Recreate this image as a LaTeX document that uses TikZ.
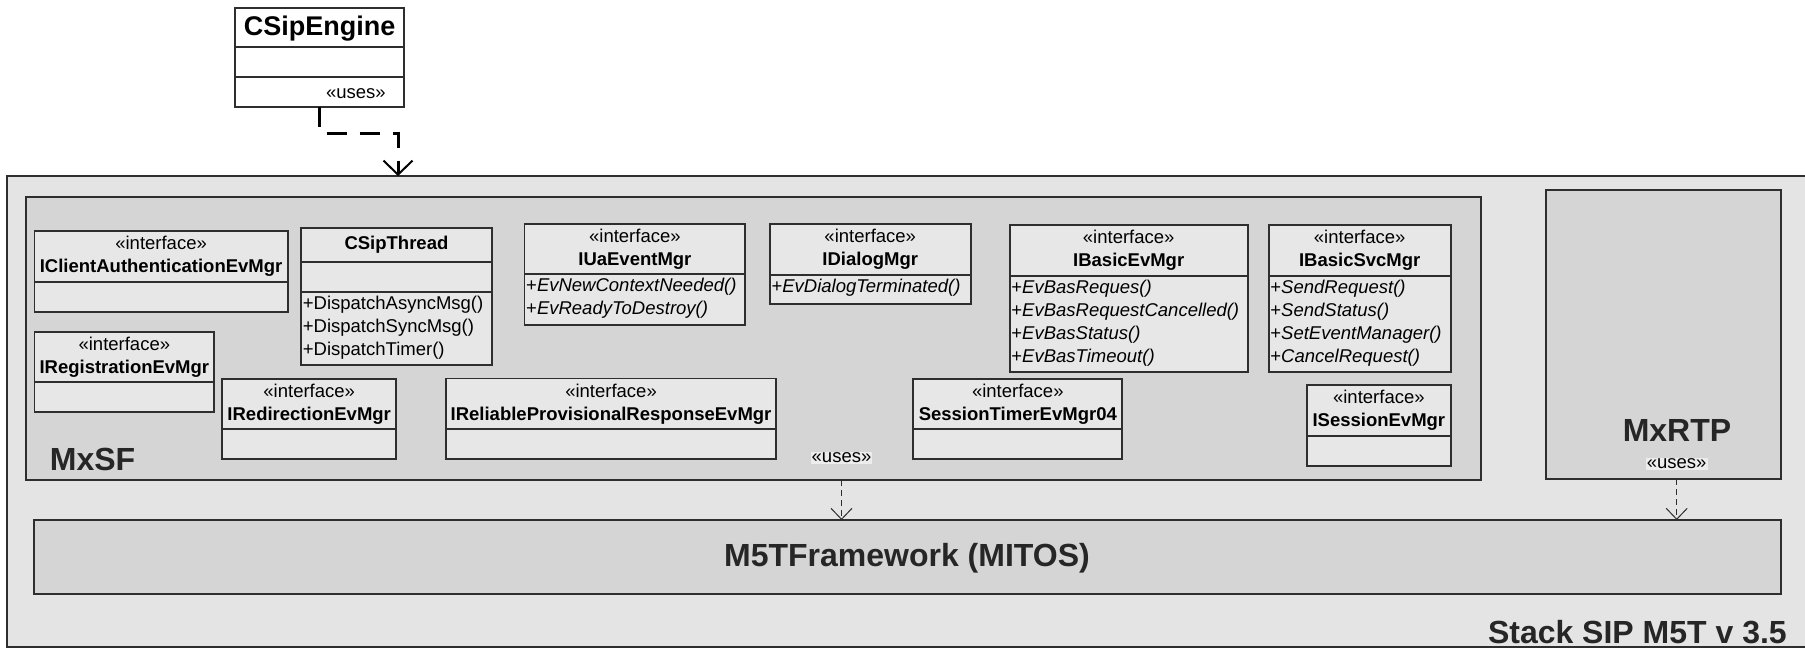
\documentclass[tikz,border=0pt]{standalone}
\usepackage{fontspec}
\setmainfont{Liberation Sans}
\usetikzlibrary{arrows.meta}
\definecolor{linec}{HTML}{2E2E2E}
\definecolor{outerfill}{HTML}{E4E4E4}
\definecolor{pkgfill}{HTML}{D5D5D5}
\definecolor{clsfill}{HTML}{E7E7E7}
\definecolor{usesfill}{HTML}{EDEDED}
\newcommand{\mkclass}[6]{%
  \node[cls, minimum width={(#4)-(#2)}, minimum height={(#5)-(#3)}] (#1) at (#2,#3) {};
  \draw[divl] (#2,#6) -- (#4,#6);
}
\newcommand{\ihead}[5]{%
  \node[hd] at ({(#1+#2)/2},{(#3+#4)/2}) {«interface»\\\textbf{#5}};
}
\newcommand{\opl}[3]{%
  \node[op] at ({#1+1.5},#2) {#3};
}
\begin{document}
\begin{tikzpicture}[x=1pt,y=-1pt,
  cls/.style={draw=linec, line width=1.8pt, fill=clsfill, inner sep=0, outer sep=0, anchor=north west},
  pkg/.style={draw=linec, line width=1.8pt, fill=pkgfill, inner sep=0, outer sep=0, anchor=north west},
  divl/.style={draw=linec, line width=1.8pt},
  hd/.style={inner sep=0, align=center, font=\fontsize{18.5}{23}\selectfont},
  op/.style={inner sep=0, anchor=west, font=\fontsize{18.5}{23}\selectfont},
  big/.style={inner sep=0, font=\fontsize{32}{36}\selectfont\bfseries, text=black!85},
  uses/.style={inner sep=1pt, font=\fontsize{18.5}{23}\selectfont, fill=usesfill},
  thindep/.style={draw=linec, line width=1pt, dash pattern=on 6pt off 4pt, -{Straight Barb[length=11pt,width=21pt,line width=1pt]}},
  thickdep/.style={draw=black, line width=3pt, dash pattern=on 20pt off 13pt, -{Straight Barb[length=14pt,width=29pt,line width=2pt]}}
]
\useasboundingbox (0,0) rectangle (1805,648);
\fill[white] (0,0) rectangle (1805,648);

% outer package
\node[pkg, fill=outerfill, minimum width=1810, minimum height=470.7] (stack) at (6.9,176) {};
\node[big, anchor=base east] (stacklbl) at (1787,643.3) {Stack SIP M5T v 3.5};

% CSipEngine
\node[cls, fill=white, minimum width=168.8, minimum height=99] (csip) at (235.3,8) {};
\draw[divl] (csip.west |- 0,47) -- (csip.east |- 0,47);
\draw[divl] (csip.west |- 0,77) -- (csip.east |- 0,77);
\node[inner sep=0, anchor=base, font=\fontsize{27}{30}\selectfont\bfseries] (csipname) at (319.7,35) {CSipEngine};
\node[uses, fill=white] (usesE) at (355.9,94) {«uses»};
\coordinate (bend) at (398,133);
\draw[thickdep] (csip.south) |- (bend) -- (bend |- stack.north);

% MxSF package
\node[pkg, minimum width=1454.7, minimum height=283.3] (mxsf) at (26,197) {};
\node[big, anchor=base west] (mxsflbl) at (49.7,470) {MxSF};

% MxRTP
\node[pkg, minimum width=235, minimum height=289] (mxrtp) at (1546,190) {};
\node[big, anchor=base] (mxrtplbl) at (1677,441.7) {MxRTP};
\node[uses] (usesR) at (1676.7,464) {«uses»};

% M5TFramework
\node[pkg, minimum width=1747.3, minimum height=74] (m5t) at (33.7,520) {};
\node[big, anchor=base] (m5tlbl) at (907,566.7) {M5TFramework (MITOS)};

% MxSF uses
\node[uses] (usesA) at (841.5,458) {«uses»};
\draw[thindep] (usesA |- mxsf.south) -- (usesA |- m5t.north);
\draw[thindep] (usesR |- mxrtp.south) -- (usesR |- m5t.north);

% classes
\mkclass{iclient}{34.4}{231}{287.8}{312}{282}
\ihead{34.4}{287.8}{231}{282}{IClientAuthenticationEvMgr}

\mkclass{csipthread}{301.2}{228}{491.7}{365}{262}
\draw[divl] (301.2,292) -- (491.7,292);
\node[hd, font=\fontsize{18.5}{23}\selectfont\bfseries] at ({(301.2+491.7)/2},245) {CSipThread};
\opl{301.2}{305}{+DispatchAsyncMsg()}
\opl{301.2}{328}{+DispatchSyncMsg()}
\opl{301.2}{351}{+DispatchTimer()}

\mkclass{iua}{524.5}{223.7}{745.3}{324.7}{274}
\ihead{524.5}{745.3}{223.7}{274}{IUaEventMgr}
\opl{524.5}{287}{+\textit{EvNewContextNeeded()}}
\opl{524.5}{310}{+\textit{EvReadyToDestroy()}}

\mkclass{idialog}{769.8}{223.7}{970.7}{304.3}{274.7}
\ihead{769.8}{970.7}{223.7}{274.7}{IDialogMgr}
\opl{769.8}{288}{+\textit{EvDialogTerminated()}}

\mkclass{ibasicev}{1009.7}{225}{1247.7}{371.7}{275.7}
\ihead{1009.7}{1247.7}{225}{275.7}{IBasicEvMgr}
\opl{1009.7}{288.5}{+\textit{EvBasReques()}}
\opl{1009.7}{311.5}{+\textit{EvBasRequestCancelled()}}
\opl{1009.7}{334.5}{+\textit{EvBasStatus()}}
\opl{1009.7}{357.5}{+\textit{EvBasTimeout()}}

\mkclass{ibasicsvc}{1268.7}{225}{1450.7}{371.7}{275.7}
\ihead{1268.7}{1450.7}{225}{275.7}{IBasicSvcMgr}
\opl{1268.7}{288.5}{+\textit{SendRequest()}}
\opl{1268.7}{311.5}{+\textit{SendStatus()}}
\opl{1268.7}{334.5}{+\textit{SetEventManager()}}
\opl{1268.7}{357.5}{+\textit{CancelRequest()}}

\mkclass{ireg}{34.4}{332}{214.3}{412}{382}
\ihead{34.4}{214.3}{332}{382}{IRegistrationEvMgr}

\mkclass{iredir}{222.3}{379}{396.1}{459}{429}
\ihead{222.3}{396.1}{379}{429}{IRedirectionEvMgr}

\mkclass{ireliable}{445.8}{378.5}{776.3}{459}{429.3}
\ihead{445.8}{776.3}{378.5}{429.3}{IReliableProvisionalResponseEvMgr}

\mkclass{isesstimer}{913.3}{379}{1122.3}{459}{429.3}
\ihead{913.3}{1122.3}{379}{429.3}{SessionTimerEvMgr04}

\mkclass{isession}{1307}{385}{1450.7}{465.7}{435.7}
\ihead{1307}{1450.7}{385}{435.7}{ISessionEvMgr}
\end{tikzpicture}
\end{document}
